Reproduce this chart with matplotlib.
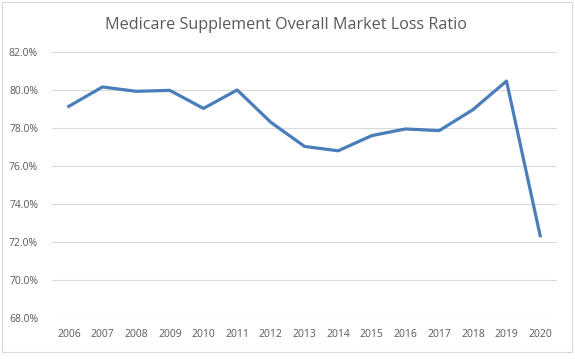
import matplotlib
matplotlib.use('Agg')
import matplotlib.pyplot as plt
from matplotlib.patches import Rectangle
from matplotlib.ticker import FuncFormatter

years = [2006, 2007, 2008, 2009, 2010, 2011, 2012, 2013,
         2014, 2015, 2016, 2017, 2018, 2019, 2020]
loss_ratio = [79.14, 80.16, 79.93, 79.98, 79.03, 80.0, 78.3, 77.03,
              76.8, 77.6, 77.95, 77.86, 78.96, 80.47, 72.33]
y_ticks = [68, 70, 72, 74, 76, 78, 80, 82]

plt.rcParams['font.family'] = ['Open Sans', 'DejaVu Sans']

fig = plt.figure(figsize=(5.75, 3.59), dpi=100)
ax = fig.add_axes([0.0904, 0.1142, 0.8783, 0.741])

ax.plot(years, loss_ratio, color='#4a7ebb', linewidth=2.3, solid_joinstyle='round')

ax.set_xlim(2005.5, 2020.5)
ax.set_ylim(68, 82)
ax.set_xticks(years)
ax.set_yticks(y_ticks)
ax.yaxis.set_major_formatter(FuncFormatter(lambda v, p: '%.1f%%' % v))
ax.grid(axis='y', color='#d9d9d9', linewidth=0.8)
ax.set_axisbelow(True)
for s in ax.spines.values():
    s.set_visible(False)
ax.tick_params(length=0, labelsize=7.5, labelcolor='#595959')
ax.tick_params(axis='x', pad=8)
ax.tick_params(axis='y', pad=10)

fig.text(0.498, 0.93, 'Medicare Supplement Overall Market Loss Ratio',
         ha='center', va='center', fontsize=11.6, color='#595959')

fig.patches.append(Rectangle((0.004, 0.02), 0.99, 0.975, transform=fig.transFigure,
                             fill=False, edgecolor='#d9d9d9', linewidth=0.8))

fig.savefig('out.png', dpi=100)
